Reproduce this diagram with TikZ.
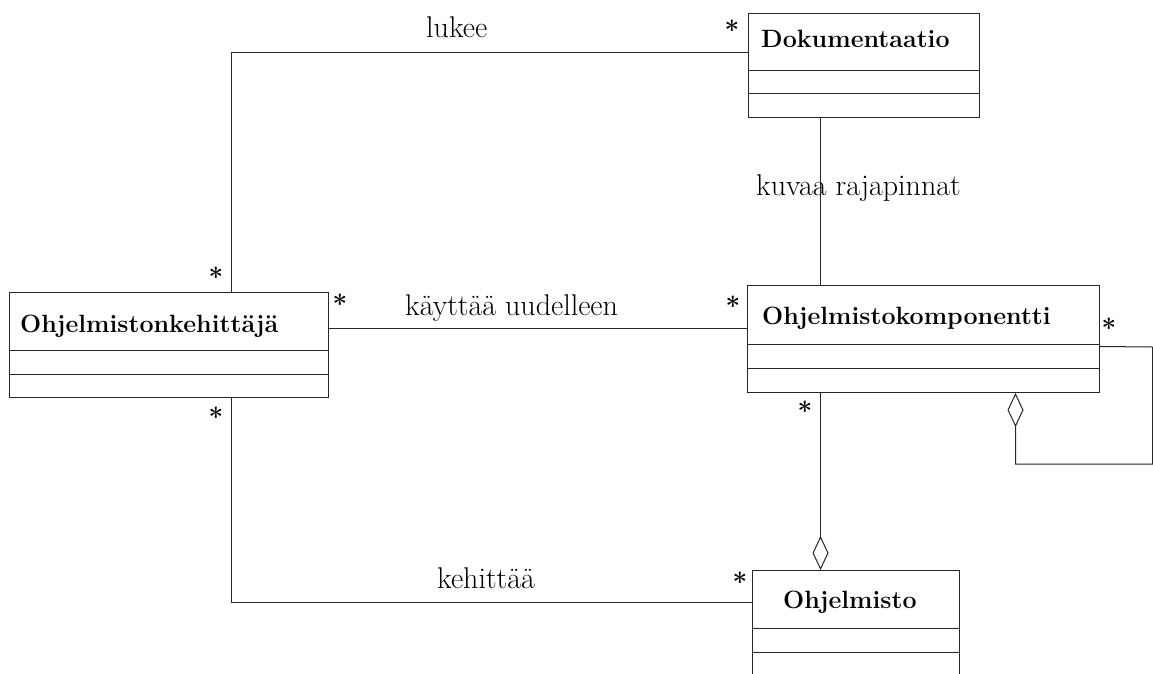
\documentclass[tikz,border=0pt]{standalone}
\usetikzlibrary{arrows.meta}
\begin{document}
\begin{tikzpicture}[x=1pt,y=-1pt,
  ln/.style={draw=black!85,line width=1pt},
  classbox/.style={ln,rectangle,inner sep=0,anchor=north west},
  cname/.style={anchor=base west,inner sep=0,font=\fontsize{25}{29}\selectfont\bfseries},
  lbl/.style={anchor=base west,inner sep=0,font=\fontsize{30}{34}\selectfont},
  mult/.style={inner sep=0,font=\fontsize{26}{30}\selectfont\bfseries},
  agg/.style={ln,{Diamond[open,length=34pt,width=16pt,line width=1pt]}-}]
\useasboundingbox (0,0) rectangle (1153,673);
\clip (0,0) rectangle (1153,673);
\fill[white] (0,0) rectangle (1153,673);

% class boxes
\node[classbox,minimum width=231pt,minimum height=104pt] (dok) at (748,13) {};
\draw[ln] (748,70) -- (979,70) (748,93) -- (979,93);
\node[cname] (dokt) at (761,47) {Dokumentaatio};

\node[classbox,minimum width=319pt,minimum height=105pt] (dev) at (9,292) {};
\draw[ln] (9,350) -- (328,350) (9,374) -- (328,374);
\node[cname] (devt) at (20,332) {Ohjelmistonkehittäjä};

\node[classbox,minimum width=352pt,minimum height=107pt] (comp) at (747,285) {};
\draw[ln] (747,344) -- (1099,344) (747,368) -- (1099,368);
\node[cname] (compt) at (762,324) {Ohjelmistokomponentti};

\node[classbox,minimum width=207pt,minimum height=120pt] (ohj) at (752,570) {};
\draw[ln] (752,628) -- (959,628) (752,652) -- (959,652);
\node[cname] (ohjt) at (783,608) {Ohjelmisto};

% connectors
\draw[ln] ([xshift=62.5pt]dev.north) |- ([yshift=13pt]dok.west);
\draw[ln] ([xshift=62.5pt]dev.south) |- ([yshift=28pt]ohj.west);
\draw[ln] ([yshift=17pt]dev.east) -- ([yshift=11pt]comp.west);
\draw[ln] ([xshift=-43.5pt]dok.south) -- ([xshift=-103pt]comp.north);
\draw[agg] ([xshift=-35.5pt]ohj.north) -- ([xshift=-103pt]comp.south);
\draw[agg] ([xshift=92pt]comp.south) -- ++(0,71) -| ++(137,-117) -- ([yshift=-7.5pt]comp.east);

% labels
\node[lbl] (l1) at (426,37) {lukee};
\node[lbl] (l2) at (756,195) {kuvaa rajapinnat};
\node[lbl] (l3) at (405,315) {käyttää uudelleen};
\node[lbl] (l4) at (437,588) {kehittää};

% multiplicities
\node[mult] (m1) at (732,30) {*};
\node[mult] (m2) at (216,277) {*};
\node[mult] (m3) at (340,304) {*};
\node[mult] (m4) at (216,417) {*};
\node[mult] (m5) at (733,306) {*};
\node[mult] (m6) at (1109,328) {*};
\node[mult] (m7) at (805,411) {*};
\node[mult] (m8) at (740,582) {*};
\end{tikzpicture}
\end{document}
